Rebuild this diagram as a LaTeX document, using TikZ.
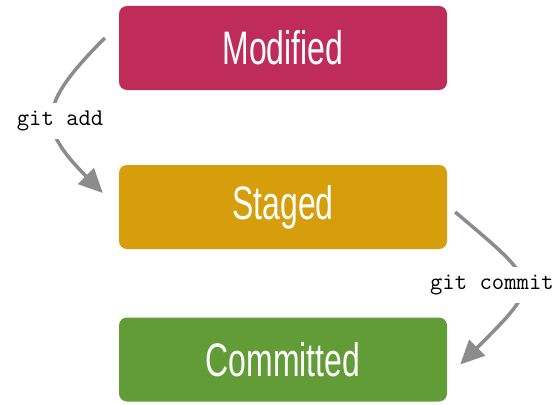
\documentclass[tikz,border=0pt]{standalone}
\usepackage{fontspec}
\setmainfont{Liberation Sans}
\newfontfamily\boxfont[FakeStretch=0.68]{Liberation Sans}
\usetikzlibrary{arrows.meta}
\definecolor{modcol}{RGB}{192,44,90}
\definecolor{stagecol}{RGB}{214,158,10}
\definecolor{commitcol}{RGB}{98,156,54}
\definecolor{flowgray}{RGB}{140,140,140}
\tikzset{statebox/.style={
    rectangle, rounded corners=8pt,
    minimum width=328pt, minimum height=84pt,
    fill=#1, text=white,
    font=\boxfont\fontsize{47}{50}\selectfont
  },
  flow/.style={draw=flowgray, line width=3.5pt,
    -{Triangle[length=24pt,width=22pt]}},
  cmd/.style={fill=white, inner xsep=2pt, inner ysep=8pt,
    font=\ttfamily\fontsize{24}{26}\selectfont}
}

\begin{document}
\begin{tikzpicture}[x=1pt,y=-1pt]
      \useasboundingbox[fill=white] (0,0) rectangle (556,404);
      \node[statebox=modcol] (modified) at (283,48) {Modified};
      \node[statebox=stagecol] (staged) at (283,207) {Staged};
      \node[statebox=commitcol] (committed) at (283,359.5) {Committed};
      \draw[flow] ([xshift=-14pt,yshift=10pt]modified.west)
        .. controls (38,105) and (37,127) ..
        node[cmd,pos=.5,xshift=6pt,yshift=-5pt]{git add} ([xshift=-16pt,yshift=14pt]staged.west);
      \draw[flow] ([xshift=8pt,yshift=-5pt]staged.east)
        .. controls (541,285) and (543,282) ..
        node[cmd,pos=.5,xshift=-29pt]{git commit} ([xshift=13pt,yshift=-5pt]committed.east);
    \end{tikzpicture}
\end{document}
